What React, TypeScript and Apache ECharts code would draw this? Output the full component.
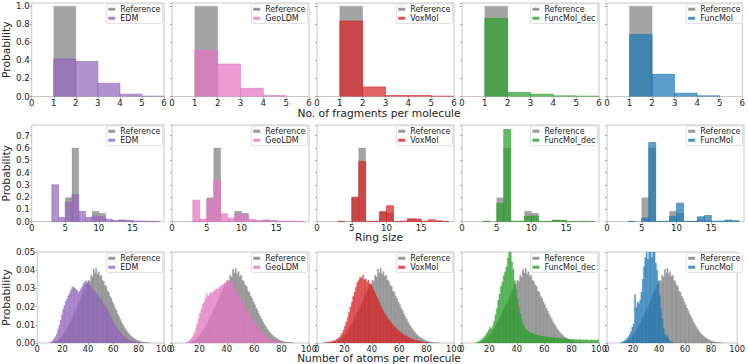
import React, { useEffect, useRef } from "react";
import * as echarts from "echarts";

// ---------- DATA ----------
const models = ["EDM", "GeoLDM", "VoxMol", "FuncMol_dec", "FuncMol"];
const modelColors = ["#9467bd", "#e377c2", "#d62728", "#2ca02c", "#1f77b4"];
const referenceColor = "#7f7f7f";

// Row 1: number of fragments per molecule (bins of width 1 starting at these values)
const fragBinStarts = [1, 2, 3, 4, 5];
const fragReference = [1.0, 0, 0, 0, 0];
const fragEDM = [0.416, 0.387, 0.146, 0.026, 0.004];
const fragGeoLDM = [0.51, 0.36, 0.091, 0.011, 0];
const fragVoxMol = [0.836, 0.106, 0.011, 0.011, 0.004];
const fragFuncMolDec = [0.865, 0.044, 0.026, 0.007, 0.004];
const fragFuncMol = [0.686, 0.245, 0.036, 0.008, 0];

// Row 2: ring size
const ringBinStarts = [3, 4, 5, 6, 7, 8, 9, 10, 11, 12, 13, 14, 15, 16, 17, 18];
const ringReference = [0.006, 0.001, 0.195, 0.6, 0.003, 0.003, 0.085, 0.068, 0.004, 0.004, 0.015, 0.012, 0.003, 0.002, 0.004, 0.002];
const ringEDM = [0.3, 0.035, 0.16, 0.22, 0.085, 0.035, 0.045, 0.04, 0.02, 0.01, 0.012, 0.008, 0.006, 0.005, 0.003, 0.002];
const ringGeoLDM = [0.175, 0.02, 0.18, 0.34, 0.065, 0.03, 0.06, 0.05, 0.018, 0.01, 0.01, 0.008, 0.005, 0.004, 0.003, 0.002];
const ringVoxMol = [0.001, 0, 0.2, 0.49, 0.003, 0.003, 0.08, 0.13, 0.002, 0.005, 0.025, 0.022, 0.003, 0.015, 0.007, 0.001];
const ringFuncMolDec = [0.002, 0, 0.15, 0.75, 0.004, 0.004, 0.045, 0.045, 0.002, 0.002, 0.008, 0.01, 0.002, 0.001, 0.002, 0.001];
const ringFuncMol = [0.001, 0, 0.03, 0.645, 0.002, 0.003, 0.045, 0.15, 0.002, 0.003, 0.04, 0.05, 0.004, 0.006, 0.013, 0.008];

// Row 3: number of atoms per molecule (unit bins, first bin starts at atomBinStart)
const atomBinStart = 5;
const atomReference = [
  0, 0, 0, 0, 0, 0, 0,
  0.0002, 0.0004, 0.0006, 0.001, 0.0014, 0.002, 0.0028, 0.0035,
  0.0045, 0.0055, 0.0068, 0.008, 0.0092, 0.0105, 0.012, 0.0135, 0.0152, 0.0168,
  0.0185, 0.0198, 0.0215, 0.0228, 0.0252, 0.0265, 0.0285, 0.0298, 0.0318, 0.0325,
  0.0345, 0.0338, 0.0372, 0.0362, 0.0405, 0.0385, 0.041, 0.0378, 0.0392, 0.0365,
  0.0372, 0.0345, 0.0338, 0.0318, 0.031, 0.0285, 0.0278, 0.0255, 0.0245, 0.0225,
  0.021, 0.0192, 0.0178, 0.016, 0.0145, 0.013, 0.0115, 0.0102, 0.009, 0.0078,
  0.0068, 0.0058, 0.005, 0.0042, 0.0035, 0.003, 0.0025, 0.002, 0.0016, 0.0013,
  0.001, 0.0008, 0.0006, 0.0005, 0.0004, 0.0003, 0.0002, 0.0002, 0.0001,
];
const atomEDM = [
  0, 0, 0, 0, 0,
  0.0003, 0.0008, 0.0015, 0.0025, 0.0035, 0.005, 0.0075, 0.0098, 0.0125, 0.0155,
  0.0185, 0.0205, 0.023, 0.0242, 0.026, 0.0272, 0.0288, 0.0305, 0.031, 0.0302,
  0.0296, 0.029, 0.0278, 0.0285, 0.0298, 0.031, 0.0325, 0.0335, 0.0342, 0.0332,
  0.0325, 0.0318, 0.031, 0.0298, 0.029, 0.028, 0.0272, 0.026, 0.0252, 0.0245,
  0.0238, 0.0225, 0.0212, 0.0198, 0.019, 0.0178, 0.0165, 0.015, 0.0138, 0.0124,
  0.011, 0.0098, 0.0088, 0.0078, 0.0068, 0.0059, 0.005, 0.0042, 0.0035, 0.003,
  0.0025, 0.002, 0.0016, 0.0013, 0.001, 0.0008, 0.0006, 0.0004, 0.0003, 0.0002,
  0.0001,
];
const atomGeoLDM = [
  0, 0, 0, 0, 0,
  0.0003, 0.0006, 0.001, 0.0018, 0.0028, 0.004, 0.0058, 0.008, 0.0105, 0.0135,
  0.0165, 0.0185, 0.0212, 0.0225, 0.0248, 0.0272, 0.0255, 0.0268, 0.028, 0.0275,
  0.0285, 0.029, 0.0298, 0.0295, 0.0305, 0.031, 0.0318, 0.0322, 0.033, 0.0335,
  0.0338, 0.0342, 0.034, 0.0332, 0.0318, 0.0305, 0.029, 0.0278, 0.0262, 0.025,
  0.0238, 0.0225, 0.021, 0.0198, 0.0185, 0.0172, 0.016, 0.0148, 0.0135, 0.0122,
  0.011, 0.0098, 0.0088, 0.0078, 0.0068, 0.006, 0.0052, 0.0045, 0.0038, 0.0032,
  0.0027, 0.0022, 0.0018, 0.0015, 0.0012, 0.001, 0.0008, 0.0006, 0.0004, 0.0003,
  0.0002,
];
const atomVoxMol = [
  0.0001, 0.0002, 0.0003, 0.0004, 0.0006,
  0.0008, 0.001, 0.0012, 0.0015, 0.002, 0.0025, 0.0032, 0.0042, 0.0055, 0.0072,
  0.0092, 0.0115, 0.014, 0.0168, 0.0198, 0.0225, 0.0255, 0.028, 0.0305, 0.0332,
  0.0345, 0.0362, 0.0355, 0.0372, 0.0348, 0.0352, 0.0335, 0.0345, 0.0325, 0.0318,
  0.0305, 0.0288, 0.0272, 0.0255, 0.024, 0.0222, 0.0205, 0.019, 0.0175, 0.0162,
  0.015, 0.0138, 0.0128, 0.0118, 0.0108, 0.0098, 0.009, 0.0082, 0.0075, 0.0068,
  0.0062, 0.0056, 0.005, 0.0045, 0.004, 0.0036, 0.0032, 0.0028, 0.0025, 0.0022,
  0.0019, 0.0016, 0.0014, 0.0012, 0.001, 0.0008, 0.0006, 0.0005, 0.0004, 0.0003,
  0.0002,
];
const atomFuncMolDec = [
  0, 0, 0, 0, 0,
  0.0002, 0.0005, 0.001, 0.0015, 0.002, 0.0028, 0.0035, 0.0045, 0.0058, 0.0072,
  0.0085, 0.0078, 0.0095, 0.012, 0.0155, 0.019, 0.0235, 0.027, 0.0312, 0.0335,
  0.037, 0.0392, 0.0418, 0.0465, 0.0525, 0.0505, 0.0445, 0.0405, 0.0342, 0.0295,
  0.0242, 0.0195, 0.0158, 0.0128, 0.0105, 0.0088, 0.0076, 0.0068, 0.0062, 0.0058,
  0.0055, 0.0052, 0.005, 0.0046, 0.0045, 0.0042, 0.004, 0.0038, 0.0036, 0.0035,
  0.0034, 0.0032, 0.0033, 0.003, 0.0031, 0.0029, 0.0028, 0.003, 0.0027, 0.0026,
  0.0028, 0.0024, 0.0025, 0.0023, 0.0024, 0.0022, 0.0023, 0.002, 0.0022, 0.0019,
  0.0021, 0.0018, 0.002, 0.0017, 0.0019, 0.0016, 0.0021, 0.0015, 0.0018, 0.0016,
  0.0019, 0.0015, 0.0017, 0.0014, 0.0018, 0.0015, 0.0016, 0.0014, 0.0017, 0.0015,
];
const atomFuncMol = [
  0, 0, 0, 0, 0,
  0.0002, 0.0004, 0.0008, 0.0012, 0.0018, 0.0025, 0.0035, 0.0048, 0.0065, 0.0088,
  0.0105, 0.0265, 0.0195, 0.0225, 0.0215, 0.0235, 0.028, 0.035, 0.042, 0.047,
  0.053, 0.046, 0.053, 0.0525, 0.047, 0.053, 0.052, 0.044, 0.04, 0.034,
  0.026, 0.019, 0.013, 0.008, 0.005, 0.0032, 0.0042, 0.002, 0.001, 0.0006,
  0.0003,
];

// tick values / axis settings
const rowXAxis = [
  { max: 6, interval: 1 },
  { max: 19.7, interval: 5 },
  { max: 100, interval: 20 },
];
const rowYAxis = [
  { max: 1.035, interval: 0.2, digits: 1 },
  { max: 0.7875, interval: 0.1, digits: 1 },
  { max: 0.05, interval: 0.01, digits: 2 },
];
const rowTitles = ["No. of fragments per molecule", "Ring size", "Number of atoms per molecule"];

// ---------- LAYOUT ----------
const FONT = "'DejaVu Sans', 'Liberation Sans', sans-serif";
const colLeft = [27, 172, 317, 462, 607];
const panelW = 137;
const rowBox = [
  { top: 3, height: 93.5 },
  { top: 125, height: 96.7 },
  { top: 252, height: 91 },
];
const titleY = [113, 237.5, 357.8];

function rgba(hex: string, a: number) {
  const h = hex.replace("#", "");
  const r = parseInt(h.slice(0, 2), 16);
  const g = parseInt(h.slice(2, 4), 16);
  const b = parseInt(h.slice(4, 6), 16);
  return `rgba(${r},${g},${b},${a})`;
}

function binsData(starts: number[], vals: number[]) {
  return starts.map((s, i) => [s, s + 1, vals[i] ?? 0]);
}
function atomData(vals: number[]) {
  return vals.map((v, i) => [atomBinStart + i, atomBinStart + i + 1, v]);
}

function makeRender(fill: string, stroke: string, lw: number) {
  return (params: any, api: any) => {
    const x0 = api.value(0);
    const x1 = api.value(1);
    const y = api.value(2);
    if (!(y > 0)) return null;
    const p0 = api.coord([x0, y]);
    const p1 = api.coord([x1, 0]);
    return {
      type: "rect",
      shape: { x: p0[0], y: p0[1], width: p1[0] - p0[0], height: p1[1] - p0[1] },
      style: { fill, stroke, lineWidth: lw },
    };
  };
}

export default function App() {
  const ref = useRef<HTMLDivElement>(null);

  useEffect(() => {
    if (!ref.current) return;
    const chart = echarts.init(ref.current, undefined, { renderer: "svg" });

    const rowsData = [
      {
        ref: binsData(fragBinStarts, fragReference),
        models: [fragEDM, fragGeoLDM, fragVoxMol, fragFuncMolDec, fragFuncMol].map((v) => binsData(fragBinStarts, v)),
      },
      {
        ref: binsData(ringBinStarts, ringReference),
        models: [ringEDM, ringGeoLDM, ringVoxMol, ringFuncMolDec, ringFuncMol].map((v) => binsData(ringBinStarts, v)),
      },
      {
        ref: atomData(atomReference),
        models: [atomEDM, atomGeoLDM, atomVoxMol, atomFuncMolDec, atomFuncMol].map((v) => atomData(v)),
      },
    ];

    const grids: any[] = [];
    const xAxes: any[] = [];
    const yAxes: any[] = [];
    const series: any[] = [];
    const legends: any[] = [];
    const alpha = 0.72;

    for (let r = 0; r < 3; r++) {
      for (let c = 0; c < 5; c++) {
        const idx = r * 5 + c;
        grids.push({
          left: colLeft[c],
          top: rowBox[r].top,
          width: panelW,
          height: rowBox[r].height,
          show: true,
          borderColor: "#c6c6c6",
          borderWidth: 1,
          backgroundColor: "transparent",
        });
        xAxes.push({
          gridIndex: idx,
          type: "value",
          min: 0,
          max: rowXAxis[r].max,
          interval: rowXAxis[r].interval,
          axisLine: { show: false },
          axisTick: { show: true, length: 2, lineStyle: { color: "#999", width: 0.8 } },
          splitLine: { show: false },
          axisLabel: {
            fontSize: r === 2 ? 8.3 : 8.6,
            fontFamily: FONT,
            color: "#222",
            margin: r === 2 ? 1.5 : 2,
            showMaxLabel: r !== 1,
            formatter: (v: number) => String(Math.round(v)),
          },
        });
        const dg = rowYAxis[r].digits;
        yAxes.push({
          gridIndex: idx,
          type: "value",
          min: 0,
          max: rowYAxis[r].max,
          interval: rowYAxis[r].interval,
          axisLine: { show: false },
          axisTick: { show: true, length: 2, lineStyle: { color: "#999", width: 0.8 } },
          splitLine: { show: false },
          axisLabel: {
            show: c === 0,
            fontSize: 8.7,
            fontFamily: FONT,
            color: "#222",
            margin: 2,
            showMaxLabel: r === 2,
            formatter: (v: number) => v.toFixed(dg),
          },
          name: c === 0 ? "Probability" : "",
          nameLocation: "middle",
          nameGap: 15,
          nameTextStyle: { fontSize: 10.7, fontFamily: FONT, color: "#222" },
        });

        const lw = r === 2 ? 0.45 : 0.7;
        const refFill = rgba(referenceColor, alpha);
        const refStroke = rgba(referenceColor, r === 2 ? 0.6 : 0.35);
        series.push({
          type: "custom",
          name: "Reference",
          xAxisIndex: idx,
          yAxisIndex: idx,
          data: rowsData[r].ref,
          encode: { x: [0, 1], y: 2 },
          clip: true,
          silent: true,
          itemStyle: { color: refFill },
          renderItem: makeRender(refFill, refStroke, lw),
        });
        const mFill = rgba(modelColors[c], alpha);
        const mStroke = rgba(modelColors[c], r === 2 ? 0.6 : 0.85);
        series.push({
          type: "custom",
          name: models[c],
          xAxisIndex: idx,
          yAxisIndex: idx,
          data: rowsData[r].models[c],
          encode: { x: [0, 1], y: 2 },
          clip: true,
          silent: true,
          itemStyle: { color: mFill },
          renderItem: makeRender(mFill, mStroke, lw),
        });

        legends.push({
          data: [
            { name: "Reference", itemStyle: { color: rgba(referenceColor, 0.8) } },
            { name: models[c], itemStyle: { color: rgba(modelColors[c], 0.8) } },
          ],
          orient: "vertical",
          right: 748 - (colLeft[c] + panelW) + 1.5,
          top: rowBox[r].top + 1,
          icon: "rect",
          itemWidth: 7,
          itemHeight: 3,
          itemGap: 0.5,
          padding: [1, 2, 1, 2],
          textStyle: { fontSize: 8, fontFamily: FONT, color: "#222", lineHeight: 8.5 },
          borderColor: "#d8d8d8",
          borderWidth: 0.8,
          borderRadius: 2,
          backgroundColor: "rgba(255,255,255,0.8)",
          selectedMode: false,
          z: 10,
        });
      }
    }

    const graphic = rowTitles.map((t, r) => ({
      type: "text",
      x: 379,
      y: titleY[r],
      style: {
        text: t,
        fontSize: r === 2 ? 10.5 : 10.7,
        fontFamily: FONT,
        fill: "#222",
        textAlign: "center",
        textVerticalAlign: "middle",
      },
    }));

    chart.setOption({
      animation: false,
      backgroundColor: "#ffffff",
      grid: grids,
      xAxis: xAxes,
      yAxis: yAxes,
      series,
      legend: legends,
      graphic,
    });

    return () => chart.dispose();
  }, []);

  return (
    <div
      ref={ref}
      style={{ position: "absolute", left: 0, top: 0, width: 748, height: 364 }}
    />
  );
}
